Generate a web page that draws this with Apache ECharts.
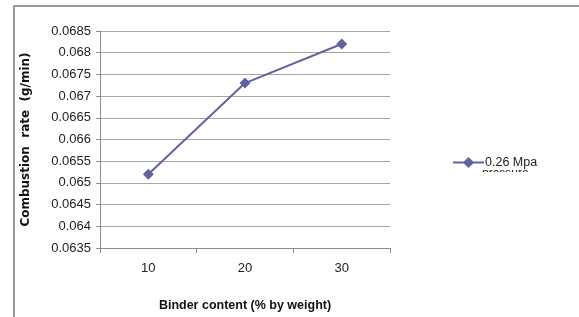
<!DOCTYPE html>
<html>
<head>
<meta charset="utf-8">
<script src="https://cdn.jsdelivr.net/npm/echarts@6/dist/echarts.min.js"></script>
<style>
html,body{margin:0;padding:0;background:#fff;}
#main{width:579px;height:317px;}
</style>
</head>
<body>
<div id="main"></div>
<script>
var binder = ['10', '20', '30'];
var rate = [0.0652, 0.0673, 0.0682];
var seriesName = '0.26 Mpa pressure';
var yMin = 0.0635, yMax = 0.0685, yStep = 0.0005;

var myChart = echarts.init(document.getElementById('main'));
var lineColor = '#62629e';
var gridColor = '#a6a6a6';
var option = {
    animation: false,
    textStyle: { fontFamily: 'Liberation Sans' },
    grid: { left: 100, right: 189, top: 31, bottom: 68 },
    legend: {
        left: 447,
        top: 151,
        itemWidth: 31,
        itemHeight: 14,
        itemGap: 4,
        data: [seriesName],
        lineStyle: { width: 2 },
        formatter: function (n) { return n.replace(' pressure', ''); },
        textStyle: { fontSize: 12.5, color: '#222', padding: [0, 0, 0, -4] }
    },
    graphic: [
        { type: 'polyline', shape: { points: [[14, 317], [14, 6], [579, 6]] },
          style: { stroke: '#999', lineWidth: 2, fill: null } },
        { type: 'text', left: 482, top: 168, z: 10,
          style: { text: 'pressure', font: '12px "Liberation Sans"', fill: '#222' } },
        { type: 'rect', shape: { x: 470, y: 172, width: 90, height: 12 }, z: 20,
          style: { fill: '#fff' } }
    ],
    xAxis: {
        type: 'category',
        data: binder,
        boundaryGap: true,
        name: 'Binder content (% by weight)',
        nameLocation: 'middle',
        nameGap: 51,
        nameTextStyle: { fontSize: 12.5, fontWeight: 'bold', color: '#111' },
        axisLine: { lineStyle: { color: '#8c8c8c', width: 1 } },
        axisTick: { show: true, length: 5, lineStyle: { color: '#8c8c8c' } },
        axisLabel: { fontSize: 13, color: '#222', margin: 14 },
        splitLine: { show: false }
    },
    yAxis: {
        type: 'value',
        min: yMin,
        max: yMax,
        interval: yStep,
        name: 'Combustion  rate  (g/min)',
        nameLocation: 'middle',
        nameGap: 68,
        nameTextStyle: { fontSize: 12, fontWeight: 'bold', color: '#111', fontFamily: 'DejaVu Sans' },
        axisLine: { show: true, lineStyle: { color: '#8c8c8c', width: 1 } },
        axisTick: { show: true, length: 4, lineStyle: { color: '#8c8c8c' } },
        axisLabel: {
            fontSize: 13, color: '#222', margin: 9,
            formatter: function (v) { return String(parseFloat(v.toFixed(4))); }
        },
        splitLine: { show: true, lineStyle: { color: gridColor, width: 1 } }
    },
    series: [{
        name: seriesName,
        type: 'line',
        data: rate,
        symbol: 'diamond',
        symbolSize: 11,
        lineStyle: { color: lineColor, width: 2 },
        itemStyle: { color: lineColor }
    }]
};
myChart.setOption(option);
</script>
</body>
</html>
